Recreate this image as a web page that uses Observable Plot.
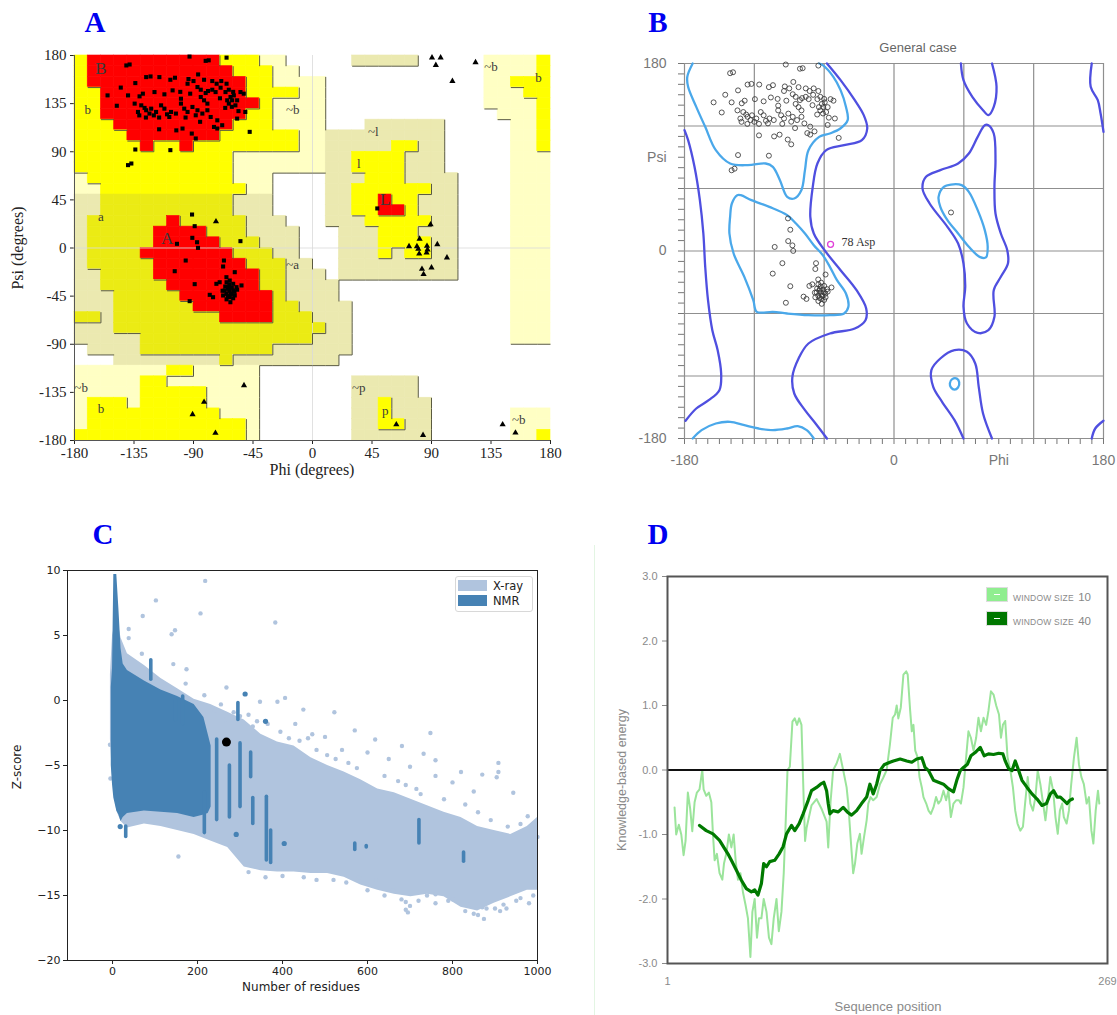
<!DOCTYPE html>
<html><head><meta charset="utf-8">
<script src="https://cdn.jsdelivr.net/npm/d3@7"></script>
<script src="https://cdn.jsdelivr.net/npm/@observablehq/plot@0.6"></script>
<style>
html,body{margin:0;padding:0;background:#fff;}
#page{position:relative;width:1117px;height:1015px;overflow:hidden;background:#fff;}
.abs{position:absolute;white-space:nowrap;line-height:1;}
.plab{font-family:"Liberation Serif",serif;font-weight:bold;font-size:29px;color:#0000f0;}
.panel{position:absolute;}
</style></head><body><div id="page"></div>
<script>
// ---------------- Panel A: PROCHECK Ramachandran plot ----------------
const phiTicks = [-180, -135, -90, -45, 0, 45, 90, 135, 180];
// 36 rows (psi 180 -> -180, 10 degree steps), run-length: letter + count over 36 phi cells (-180 -> 180)
const regionRows = [
  "Y1 R10 Y3 P2 W5 K5 W5 P4 Y1",
  "Y1 R11 Y3 P2 W14 P4 Y1",
  "Y1 R12 Y2 P4 W12 P2 Y3",
  "Y2 R11 Y4 P2 W12 P3 Y2",
  "Y2 R12 Y1 P4 W12 P4 Y1",
  "Y2 R11 Y2 P4 W13 P3 Y1",
  "Y3 R9 Y3 P4 W3 K6 W5 P2 Y1",
  "Y4 R7 Y6 P2 K9 W5 P2 Y1",
  "Y5 R1 Y2 R1 Y8 P2 K5 Y2 K2 W5 P2 Y1",
  "Y12 P7 K2 Y4 K3 W5 P3",
  "Y12 P7 K2 Y4 K3 W5 P3",
  "P1 Y11 P3 W4 K3 Y3 K4 W4 P3",
  "P2 Y11 P2 W4 K2 Y6 K2 W4 P3",
  "K2 T10 K3 W4 K2 Y2 R1 Y2 K3 W4 P3",
  "K2 T10 K3 W4 K2 Y2 R2 Y1 K3 W4 P3",
  "K1 T6 R1 T5 K3 W3 K3 Y5 K2 W4 P3",
  "K1 T5 R4 T3 K4 W3 K3 Y3 K3 W4 P3",
  "K1 T5 R5 T3 K3 W3 K3 Y4 K2 W4 P3",
  "K1 T4 R7 T3 K2 W3 K3 Y1 K1 Y2 K2 W4 P3",
  "K1 T5 R7 T3 K2 W2 K9 W4 P3",
  "K2 T4 R8 T2 K3 W1 K9 W4 P3",
  "K2 T5 R7 T2 K4 W13 P3",
  "K3 T5 R7 T1 K4 W13 P3",
  "K3 T6 R6 T2 K4 W12 P3",
  "T2 K1 T8 R4 T3 K3 W12 P3",
  "K3 T16 K2 W12 P3",
  "K5 T13 K3 W12 P3",
  "W1 K4 T10 K6 W15",
  "W3 K8 T1 K8 W16",
  "P7 Y2 P5 W22",
  "P5 Y2 P7 W7 K5 W10",
  "P5 Y5 P4 W7 K5 W10",
  "P1 Y3 P1 Y5 P4 W7 K2 Y1 K3 W9",
  "P1 Y10 P3 W7 K2 Y1 K3 W6 P3",
  "P1 Y12 P1 W7 K2 Y2 K2 W6 P3",
  "Y13 P1 W7 K6 W6 P2 Y1"
];
const regionClasses = ["R", "Y", "T", "K", "P"];
const regionFills = ["#ff0000", "#ffff00", "#ebeb14", "#ebe9b0", "#ffffc4"];
const regionRank = {R: 3, Y: 2, T: 2, K: 1, P: 1, W: 0};
const regionLabels = [
  ["B", -160, 168], ["b", -170, 129], ["a", -160, 29], ["A", -110, 9], ["~b", -15, 129],
  ["~a", -15, -16], ["~l", 46, 109], ["l", 35, 79], ["L", 55, 45], ["~b", 135, 169],
  ["b", 171, 159], ["~b", -175, -131], ["b", -160, -150], ["~p", 35, -131], ["p", 55, -152],
  ["~b", 156, -161]
];
// non-glycine residues (phi, psi)
const residues = [
  [-140.8,170.7],[-138.3,171.6],[-125.8,159.8],[-122.5,160.4],[-115.8,159.8],[-107.5,157.3],[-104,159.2],[-93.8,158],
  [-90,156.1],[-86.5,162.3],[-82,157.3],[-75.8,156.1],[-72.5,153.6],[-69,156.1],[-65,153.6],[-94.5,153.6],[-134,154.2],
  [-155,142.7],[-139.5,142.7],[-130.8,141.8],[-128.3,144.3],[-119.5,145.8],[-112,143.7],[-105.8,147.4],[-99.5,139.6],
  [-92.5,144.3],[-87,150.5],[-84.5,148],[-80.8,144.9],[-79,146.8],[-75.8,148],[-73.3,145.8],[-69.5,149.9],[-65.8,145.8],
  [-63.3,148],[-62,141.2],[-59.5,142.7],[-60.8,138.1],[-64.5,138.1],[-57,138.1],[-54.5,145.8],[-52,144.3],[-58.3,133.4],
  [-63.3,135],[-84.5,141.2],[-82,138.1],[-79.5,135],[-134.5,135],[-129.5,133.4],[-125.8,128.8],[-132,127.2],[-122,130.3],
  [-118.3,127.2],[-123.3,125.7],[-114.5,133.4],[-112,130.3],[-107,127.2],[-108.3,122.5],[-103.3,125.7],[-99.5,135],
  [-97,130.3],[-94.5,127.2],[-90.8,131.9],[-87,128.8],[-88.3,124.1],[-83.3,125.7],[-79.5,128.8],[-77,122.5],[-72,119.4],
  [-68.3,114.8],[-74.5,113.2],[-98.3,111.7],[-91.3,107],[-88.3,102.4],[-72,111.7],[-57,121],[-50.8,127.2],[-47.5,108.6],
  [-134,92.1],[-107.5,91.5],[-139.5,77.5],[-137,79],[-93,179],[-80.8,175],[-78.5,175.5],[-65,178],
  [-127,131],[-120,124],[-116,122],[-110,125],[-126,122],[-131,124],[-60,146],[-61,132],[-66,131],[-70,140],[-56,128],
  [-100,146],[-96,122],[-85,118],[-145,150],[-148,133],[-116,111],[-103,110],
  [-91.1,31.3],[-89.1,20.4],[-90.9,9.5],[-87.3,5.4],[-86.6,0.1],[-102.5,3.9],[-95.9,-11.7],[-104.2,-21.7],[-89.1,-33.8],
  [-67,-11.7],[-67.6,-17.3],[-58.8,-22.6],[-92.9,-49.7],[-77.7,-43.8],[-75.2,-46],[-65.1,-27.3],[-62.6,-30.4],[-60,-33.5],
  [-63.8,-36.6],[-66.4,-39.7],[-61.3,-42.9],[-62.6,-46],[-65.1,-42.9],[-57.5,-36.6],[-53.7,-35],[-60,-39.7],[-58.8,-44.4],
  [-62.1,-50.7],[-67.6,-44.4],[-70.2,-32],[-72.7,-33.5],[-65,-32],[-63,-40],[-64,-38],[-61,-37],[-59,-41],[-66,-36],
  [-62,-43],[-64,-45],[-60,-47],[-68,-40],[-57,-39],[-63,-34],[-65,-48],
  [49,37]
];
const asp78 = [-54.5, 6.4];
const glycines = [
  [90.4,178],[96.9,178],[93.3,171],[123.3,173.5],[105.8,156],[89.3,22],[73,1.5],[79,1.5],[80,-1],[86.6,1.8],[94.4,3.4],
  [81,8.5],[87,-1.5],[80.7,-5.4],[86.3,-4.4],[101.7,-9],[82.8,-19.6],[90,-18.4],[84,-24.6],[-73,24.7],[-51.8,-128.5],
  [-82,-144],[-90.7,-155.6],[-73.4,-173],[63.4,-165],[83.6,-175],[143.8,-165],[153.5,-172.8]
];

// ---------------- Panel B: MolProbity general case contours ----------------
const bGrid = [-180, -120, -60, 0, 60, 120, 180];
const lightOpen = {
  betaTop: [[-64.3,180],[-61.2,178.4],[-52.1,167.2],[-45.9,154.4],[-41.3,138.4],[-39.8,125.6],[-46.1,117.6],[-55.1,112.8],[-64.3,109.6],[-73.5,96.8],[-76.5,77.6],[-79.6,58.4],[-85.7,50.4],[-91.8,52],[-98,68],[-104.1,80.8],[-110.2,84],[-125.5,82.4],[-140.8,84],[-153.1,96.8],[-162.2,119.2],[-169.9,138.4],[-176.9,157.6],[-177.6,167.2],[-173,180]],
  betaBottom: [[-173,-180],[-165.3,-172],[-153.1,-165.6],[-140.8,-164],[-128.6,-167.2],[-116.3,-170.4],[-104.1,-172],[-91.8,-170.4],[-82.7,-168.2],[-75,-172],[-68.9,-180]]
};
const lightClosed = {
  alpha: [[-134.7,53.6],[-139.3,45.6],[-140.8,32.8],[-141.4,16.8],[-137.8,-2.4],[-128.6,-24.8],[-120.9,-47.2],[-117.9,-58.4],[-104.1,-58.4],[-91.8,-60],[-73.5,-61.6],[-55.1,-61.6],[-42.9,-60],[-39.2,-53.6],[-41.3,-40.8],[-49,-28],[-55.1,-15.2],[-61.2,-4],[-68.9,5.6],[-76.5,16.8],[-84.2,26.4],[-91.8,34.4],[-107.1,42.4],[-122.5,48.8],[-131.6,53.6]],
  leftAlpha: [[42.8,61.6],[38.3,52],[39.8,42.4],[45.9,29.6],[55.1,16.8],[64.3,4],[73.5,-5.6],[79,-6.2],[80.5,4],[78,20],[71.9,39.2],[64.3,56.8],[58.1,63.2],[49,63.8]],
  small: [[50,-123],[54,-122.5],[56,-126],[55,-131],[52,-133],[49,-131],[48,-127]]
};
const darkOpen = {
  main: [[-57.6,180],[-45.9,164],[-33.7,144.8],[-26,130.4],[-23,117.6],[-27.6,106.4],[-42.9,101.6],[-58.2,96.8],[-65.8,84],[-69.8,61.6],[-71.9,32.8],[-68.9,16.8],[-59.7,0.8],[-45.9,-18.4],[-32.2,-37.6],[-23.9,-55.2],[-24.5,-66.4],[-33.7,-74.4],[-55.1,-79.2],[-73.5,-88.8],[-82,-103.2],[-87.3,-120.8],[-85.7,-136.8],[-76.5,-152.8],[-67.4,-165.6],[-57.6,-180]],
  edge: [[-180,116],[-176.9,106.4],[-171.4,80.8],[-166.8,48.8],[-163.8,16.8],[-162.2,-15.2],[-159.8,-47.2],[-156.1,-76],[-151.5,-95.2],[-148.5,-117.6],[-150,-133.6],[-159.2,-143.2],[-169.9,-151.2],[-179.1,-163]],
  topRight: [[57.5,180],[59.7,164],[67.3,148],[76.5,135.2],[81.1,130.4],[85.7,138.4],[88.1,157.6],[84.2,180]],
  bottomRight: [[59.7,-180],[52,-162.4],[41.3,-144.8],[33.7,-130.4],[32.1,-114.4],[39.8,-103.2],[52,-95.2],[62.7,-96.8],[69.8,-108],[72.8,-130.4],[76.5,-156],[84.2,-180]],
  farRightTop: [[169.9,180],[169,157.6],[175.1,144.8],[177.5,132],[180,114.4]],
  farRightBottom: [[169.9,-180],[172.9,-170.4],[180,-163]]
};
const darkClosed = {
  midRight: [[78,120.8],[71.9,109.6],[64.3,93.6],[55.1,84],[39.8,77.6],[27.5,71.2],[24.5,60],[30.6,45.6],[45.9,23.2],[55.1,7.2],[59.7,-12],[61.2,-34.4],[59.7,-53.6],[62.7,-69.6],[71.9,-78.6],[81.1,-76],[86.3,-63.2],[85.7,-37.6],[91.8,-24.8],[97.9,-12],[97.3,0.8],[91.8,16.8],[87.2,36],[86.3,61.6],[87.2,87.2],[85.7,112.8],[81.1,120.8]]
};

// ---------------- Panel C: ProSA z-score ----------------
const resTicks = [0, 200, 400, 600, 800, 1000];
const zTicks = [-20, -15, -10, -5, 0, 5, 10];
// [residues, upper z, lower z]
const xrayBand = [[-5,2,-3],[0,5,-6],[10,6.5,-8.5],[20,4.8,-9.3],[35,3.6,-9.8],[75,2.7,-9.5],[114,1.7,-9.7],[153,0.9,-10],[192,0.1,-10.3],[231,-0.3,-10.8],[271,-0.9,-11.3],[310,-1.5,-12.8],[349,-2.6,-13.1],[388,-3.2,-13.2],[427,-3.5,-13.2],[467,-4.4,-13.3],[506,-5,-13.3],[545,-5.5,-13.6],[584,-6.1,-14.2],[624,-6.8,-14.6],[663,-7.1,-14.9],[702,-7.6,-15.1],[741,-8.1,-14.9],[780,-8.6,-15.1],[820,-9,-15.9],[859,-9.7,-16.2],[898,-10,-15.6],[937,-10.3,-15.1],[976,-9.7,-14.6],[1000,-9,-14.6]];
const nmrBand = [[-3,1,-5],[0,2.5,-6.5],[3,9.7,-7.5],[10,9.7,-8.5],[15,7,-8.8],[20,4,-9.3],[25,2.8,-9],[35,2.3,-8.7],[75,1.5,-8.5],[114,0.8,-8.6],[153,0.3,-8.7],[192,-0.3,-9],[215,-1.3,-8.8],[225,-2.6,-8.7],[232,-3.5,-8.2]];
const nmrStreaks = [[90,1.6,3.1],[148,-1.5,0],[165,-1.8,0.3],[216,-10.2,-7.1],[245,-9.2,-3],[275,-9,-5],[295,-1.5,-0.2],[300,-8.2,-3.3],[325,-5.9,-4],[330,-9.5,-7.5],[362,-12.3,-7.4],[372,-12.5,-10],[721,-11,-9.2],[826,-12.4,-11.7],[31,-10.5,-9.7],[570,-11.5,-11],[597,-11.3,-11.2]];
const nmrDots = [[312,0.5],[360,-1.6],[291,-10.3],[404,-11],[18,-9.7]];
const xrayDots = [[218,9.2],[102,7.7],[207,6.7],[71,6.5],[383,6],[38,5.5],[147,5.4],[139,5.1],[38,4.8],[69,3.6],[143,2.8],[174,2.4],[172,1.3],[216,0.4],[268,1],[347,-0.1],[388,-0.1],[406,0.2],[449,-0.7],[522,-0.9],[570,-2.3],[618,-3],[748,-2.5],[681,-3.5],[732,-4.1],[908,-4.8],[908,-5.5],[904,-5.9],[943,-7.1],[977,-8.9],[155,-12],[740,-15],[801,-15.3],[912,-16.2],[927,-16],[874,-16.8],[690,-16.1],[-5,-6],[-6,-3.4],[690,-15.5],[695,-16.3],[860,-16.5],[880,-16],[985,-12],[995,-9.5],[1000,-10.5],[300,-1.2],[330,-2],[430,-1.8],[470,-2.6],[500,-2.8],[540,-3.8],[600,-4],[650,-4.5],[700,-5.1],[760,-5.8],[800,-6.3],[850,-7],[870,-5.7],[760,-4.6],[820,-5.5],[620,-13.8],[660,-14.6],[760,-14.9],[840,-15.7],[950,-15.4],[980,-15.6],[520,-13.8],[580,-13.6],
  [240,-0.8],[255,-0.3],[265,-1.5],[285,-0.9],[320,-1.1],[340,-1.6],[365,-1.8],[395,-2.4],[415,-2.9],[440,-3.1],[460,-2.9],[480,-3.8],[505,-4.2],[525,-4.5],[555,-4.8],[575,-5.2],[640,-5.8],[672,-6.2],[690,-6.5],[715,-6.8],[725,-7.2],[780,-7.6],[830,-8],[860,-8.6],[890,-9.2],[930,-9.7],[960,-9.5],[990,-9.9],
  [320,-13.2],[360,-13.6],[400,-13.5],[450,-13.6],[480,-13.8],[550,-14],[600,-14.6],[640,-15],[680,-15.3],[700,-15.8],[720,-15.4],[760,-15.6],[790,-15.4],[830,-16.2],[850,-16.4],[870,-15.9],[900,-16],[920,-15.7],[960,-15.2],[990,-15]];
const queryProtein = [268, -3.2];

// ---------------- Panel D: ProSA energy profile ----------------
const energyTicks = [-3, -2, -1, 0, 1, 2, 3];
const seqTicks = [1, 269];
const win10 = [[5.3,-0.58],[6.3,-1],[7.9,-0.85],[9.4,-1],[10.8,-1.32],[12,-1.1],[13.4,-0.35],[14.8,-0.6],[16.1,-0.95],[17.5,-0.5],[18.9,-0.35],[20.5,-0.3],[22.2,0],[23,-0.3],[24.6,-0.4],[26.2,-0.35],[27.7,-0.5],[28.7,-1],[29.7,-1.4],[31.1,-1.3],[32.7,-1.6],[34.4,-1.7],[35.4,-1.45],[36.8,-1.3],[38.4,-1],[39.9,-1.2],[41.3,-1],[42.5,-1.4],[43.9,-1.7],[45.4,-1.6],[47,-1.9],[48.6,-2.1],[50,-2.3],[51.5,-2.9],[52.7,-2.2],[54.1,-2],[55.5,-2.6],[56.7,-2.3],[58.2,-2.3],[59.6,-2],[61.3,-2.2],[62.8,-2.6],[64.3,-2.7],[65.7,-2.3],[67.4,-2],[68.8,-2.5],[70.4,-2.2],[71.8,-1.6],[73,-0.8],[74.1,0],[75.5,0.05],[77.1,0.75],[78.5,0.8],[79.9,0.7],[81.2,0.8],[82.6,0.7],[84,-0.5],[84.8,-1.1],[85.7,-0.9],[88.7,-0.55],[91.8,-0.45],[94.8,-0.6],[97.9,-0.8],[98.9,-1.2],[100.3,-0.5],[101.9,0],[104,0.1],[106,0.25],[107,0.12],[108,0],[110.1,-0.27],[111.1,-0.52],[112.5,-1.04],[114.1,-1.6],[115.2,-1.45],[116.6,-1.14],[118.2,-0.99],[119.2,-1.3],[120.7,-1.04],[122.3,-0.78],[123.3,-0.52],[124.7,-0.42],[126.3,-0.47],[128.4,-0.42],[130.4,-0.22],[132.4,-0.12],[134.5,0],[136.5,0.4],[138.2,0.81],[139.6,0.86],[140.6,1],[141.6,0.8],[143.1,0.97],[144.7,1.48],[146.4,1.53],[147.3,1.48],[148.8,0.92],[149.8,0.6],[150.8,0.7],[151.9,0.3],[153.3,0.2],[154.5,-0.11],[155.9,-0.27],[156.9,-0.42],[158.6,-0.52],[160,-0.63],[161.4,-0.68],[163,-0.58],[164.6,-0.42],[166,-0.52],[167.5,-0.47],[169.1,-0.32],[170.7,-0.47],[172.1,-0.32],[173.6,-0.73],[175.2,-0.52],[176.8,-0.47],[178.5,-0.47],[179.7,-0.52],[181.3,-0.27],[182.9,0.2],[184.3,0.6],[185.8,0.5],[187.4,0.3],[189,0.5],[190.4,0.81],[191.9,0.6],[193.5,0.81],[195.1,0.7],[196.5,0.92],[198,1.22],[199.6,1.17],[201.2,1],[202.9,0.86],[204.1,0.5],[205.3,0.7],[206.7,0.76],[208.1,0.2],[209.8,0],[211.4,-0.27],[212.8,-0.63],[214.2,-0.83],[215.9,-0.94],[217.5,-0.88],[218.8,-0.52],[220.4,-0.11],[222,-0.52],[223.6,-0.63],[225.1,-0.42],[226.5,-0.01],[228.1,-0.22],[229.8,-0.52],[231.2,-0.78],[232.6,-0.47],[234.2,-0.11],[235.9,-0.32],[237.3,-0.73],[238.7,-0.99],[240,-0.63],[241.4,-0.52],[242.4,-0.73],[244.1,-0.83],[245.5,-0.63],[246.9,-0.22],[248.6,0.2],[250.2,0.5],[251.6,0.09],[253.1,-0.11],[254.6,-0.22],[256.3,-0.52],[257.7,-0.42],[259.2,-0.94],[260.4,-1.14],[261.8,-0.63],[263.2,-0.32],[264,-0.52]];
const win40 = [[20.5,-0.86],[24.6,-0.94],[28.7,-0.99],[32.7,-1.09],[35.8,-1.22],[37.8,-1.3],[39.9,-1.4],[42.9,-1.55],[46,-1.71],[49,-1.84],[52.1,-1.89],[54.1,-1.86],[56.1,-1.94],[58.2,-1.76],[59.6,-1.45],[61.3,-1.5],[63.3,-1.42],[66.3,-1.4],[69,-1.3],[71.4,-1.19],[73.5,-0.99],[76.5,-0.86],[78.5,-0.94],[81.2,-0.83],[83.6,-0.68],[86.7,-0.47],[88.7,-0.32],[91.8,-0.27],[94.2,-0.22],[96.2,-0.19],[97.9,-0.32],[98.9,-0.52],[99.9,-0.68],[101.9,-0.63],[105,-0.65],[108,-0.58],[110.5,-0.65],[113.1,-0.7],[116.2,-0.63],[119.2,-0.52],[122.3,-0.42],[124.3,-0.22],[126.3,-0.37],[128.4,-0.22],[130.4,-0.01],[132.9,0.08],[136.5,0.12],[138.6,0.14],[142.7,0.17],[146.7,0.14],[149.8,0.12],[152.8,0.17],[155.9,0.19],[157.9,0.04],[160,-0.01],[163,-0.16],[166,-0.19],[169.1,-0.22],[172.1,-0.29],[175.2,-0.34],[177.2,-0.16],[179.3,-0.01],[181.3,0.04],[183.7,0.09],[185.8,0.22],[188.4,0.27],[191.5,0.35],[193.9,0.22],[196.5,0.25],[199.6,0.24],[202.7,0.26],[205.3,0.25],[206.7,0.14],[208.8,0.02],[210.8,-0.01],[212.8,0.14],[214.9,-0.01],[216.9,-0.16],[220,-0.27],[223,-0.37],[226.1,-0.45],[229.1,-0.55],[231.8,-0.52],[234.2,-0.37],[236.2,-0.32],[238.3,-0.42],[240.3,-0.42],[242.4,-0.47],[244.4,-0.52],[246,-0.47],[247.6,-0.45]];

// ======================= rendering =======================
const page = document.getElementById("page");
function place(node, left, top) {
  const wrap = document.createElement("div");
  wrap.className = "panel";
  wrap.style.left = left + "px"; wrap.style.top = top + "px";
  wrap.appendChild(node); page.appendChild(wrap);
}
function label(text, x, y, css, rotate) {
  const d = document.createElement("div");
  d.className = "abs"; d.textContent = text;
  d.style.cssText += css;
  d.style.left = x + "px"; d.style.top = y + "px";
  d.style.transform = "translate(-50%,-50%)" + (rotate ? " rotate(-90deg)" : "");
  page.appendChild(d); return d;
}
const X = d => d[0], Y = d => d[1];

// ---- A ----
const grid = regionRows.map(row => row.split(" ").flatMap(tok => Array(+tok.slice(1)).fill(tok[0])));
const cellsA = [], edgesA = [];
grid.forEach((row, r) => row.forEach((k, c) => {
  const phi1 = -180 + 10 * c, phi2 = phi1 + 10, psi2 = 180 - 10 * r, psi1 = psi2 - 10;
  if (k === "W") return;
  cellsA.push({k, phi1, phi2, psi1, psi2});
  const rk = regionRank[k];
  if (c < 35 && regionRank[row[c + 1]] < rk) edgesA.push({x1: phi2, x2: phi2, y1: psi1, y2: psi2});
  if (r < 35 && regionRank[grid[r + 1][c]] < rk) edgesA.push({x1: phi1, x2: phi2, y1: psi1, y2: psi1});
}));
const plotA = Plot.plot({
  width: 560, height: 490, marginLeft: 74, marginRight: 10, marginTop: 55, marginBottom: 50,
  x: {domain: [-180, 180], ticks: phiTicks, tickFormat: d => String(d), tickSize: 4, tickPadding: 3, label: null},
  y: {domain: [-180, 180], ticks: phiTicks, tickFormat: d => String(d), tickSize: 4, tickPadding: 4, label: null},
  color: {domain: regionClasses, range: regionFills},
  style: {fontFamily: '"Liberation Serif", serif', fontSize: "15px", color: "#222", background: "transparent", overflow: "visible"},
  marks: [
    Plot.rect(cellsA, {x1: "phi1", x2: "phi2", y1: "psi1", y2: "psi2", fill: "k", stroke: "k", strokeWidth: 0.6}),
    Plot.ruleX([0], {stroke: "#d9d9d9", strokeWidth: 0.8}),
    Plot.ruleY([0], {stroke: "#d9d9d9", strokeWidth: 0.8}),
    Plot.link(edgesA, {x1: "x1", x2: "x2", y1: "y1", y2: "y2", stroke: "#5a5a40", strokeWidth: 1}),
    Plot.ruleX([-180], {stroke: "#555", strokeWidth: 1}),
    Plot.ruleY([-180], {stroke: "#555", strokeWidth: 1}),
    Plot.text(regionLabels, {x: d => d[1], y: d => d[2], text: d => d[0], fontSize: d => /^[A-Z]$/.test(d[0]) ? 17 : 13, fill: "#3a3a3a"}),
    Plot.dot(residues, {x: X, y: Y, symbol: "square", r: 2.3, fill: "#000"}),
    Plot.dot([asp78], {x: X, y: Y, symbol: "square", r: 2.3, fill: "#000"}),
    Plot.dot(glycines, {x: X, y: Y, symbol: "triangle", r: 2.3, fill: "#000"})
  ]
});
place(plotA, 0, 0);

// ---- B ----
const flat = (obj) => Object.entries(obj).flatMap(([id, pts]) => pts.map(p => ({id, phi: p[0], psi: p[1]})));
const degTicks = d3.range(-180, 181, 10);
const plotB = Plot.plot({
  width: 557, height: 490, marginLeft: 124, marginRight: 14, marginTop: 63, marginBottom: 52,
  x: {domain: [-180, 180], ticks: degTicks, tickFormat: d => d === 90 ? "Phi" : ([-180, 0, 180].includes(d) ? String(d) : ""), tickSize: 6, tickPadding: 11, label: null},
  y: {domain: [-180, 180], ticks: degTicks, tickFormat: d => d === 90 ? "Psi" : ([-180, 0, 180].includes(d) ? String(d) : ""), tickSize: 6, tickPadding: 12, label: null},
  style: {fontFamily: '"Liberation Sans", Arial, sans-serif', fontSize: "14px", color: "#777", background: "transparent", overflow: "visible"},
  marks: [
    Plot.ruleX(bGrid, {stroke: "#8f8f8f", strokeWidth: 1.2}),
    Plot.ruleY(bGrid, {stroke: "#8f8f8f", strokeWidth: 1.2}),
    Plot.line(flat(darkOpen), {x: "phi", y: "psi", z: "id", curve: "catmull-rom", stroke: "#4f4fe0", strokeWidth: 2.3}),
    Plot.line(flat(darkClosed), {x: "phi", y: "psi", z: "id", curve: "catmull-rom-closed", stroke: "#4f4fe0", strokeWidth: 2.3}),
    Plot.line(flat(lightOpen), {x: "phi", y: "psi", z: "id", curve: "catmull-rom", stroke: "#4aa8ea", strokeWidth: 2.3}),
    Plot.line(flat(lightClosed), {x: "phi", y: "psi", z: "id", curve: "catmull-rom-closed", stroke: "#4aa8ea", strokeWidth: 2.3}),
    Plot.dot(residues, {x: X, y: Y, r: 2.5, stroke: "#3a3a3a", strokeWidth: 1, fill: "none", strokeOpacity: 0.85}),
    Plot.dot([asp78], {x: X, y: Y, r: 3, stroke: "#e040d8", strokeWidth: 1.3, fill: "none"}),
    Plot.text([asp78], {x: X, y: Y, text: () => "78 Asp", dx: 11, dy: -2, textAnchor: "start", fontFamily: '"Liberation Serif", serif', fontSize: 12, fill: "#333"})
  ]
});
place(plotB, 560, 0);

// ---- C ----
const minusFmt = d => d < 0 ? "\u2212" + Math.abs(d) : String(d);
const plotC = Plot.plot({
  width: 560, height: 515, marginLeft: 67, marginRight: 23, marginTop: 70, marginBottom: 55,
  x: {domain: [-106, 1000], ticks: resTicks, tickSize: 4, tickPadding: 3, label: null, tickFormat: d => String(d)},
  y: {domain: [-20, 10], ticks: zTicks, tickFormat: minusFmt, tickSize: 4, tickPadding: 3, label: null},
  style: {fontFamily: '"DejaVu Sans", sans-serif', fontSize: "11px", color: "#222", background: "transparent", overflow: "visible"},
  marks: [
    Plot.areaY(xrayBand, {x: d => d[0], y1: d => d[2], y2: d => d[1], fill: "#b0c4de"}),
    Plot.dot(xrayDots, {x: X, y: Y, r: 2.2, fill: "#b0c4de"}),
    Plot.areaY(nmrBand, {x: d => d[0], y1: d => d[2], y2: d => d[1], fill: "#4682b4"}),
    Plot.ruleX(nmrStreaks, {x: d => d[0], y1: d => d[1], y2: d => d[2], stroke: "#4682b4", strokeWidth: 3.6, strokeLinecap: "round"}),
    Plot.dot(nmrDots, {x: X, y: Y, r: 2.6, fill: "#4682b4"}),
    Plot.dot([queryProtein], {x: X, y: Y, r: 4.5, fill: "#000"}),
    Plot.frame({stroke: "#222"})
  ]
});
place(plotC, 0, 500);

// ---- D ----
const plotD = Plot.plot({
  width: 557, height: 515, marginLeft: 107, marginRight: 10, marginTop: 76, marginBottom: 52,
  x: {domain: [1, 269], ticks: seqTicks, tickFormat: d => String(d), tickSize: 0, tickPadding: 14, label: null},
  y: {domain: [-3, 3], ticks: energyTicks, tickFormat: d => d.toFixed(1), tickSize: 5, tickPadding: 5, label: null},
  style: {fontFamily: '"Liberation Sans", Arial, sans-serif', fontSize: "11px", color: "#8a8a8a", background: "transparent", overflow: "visible"},
  marks: [
    Plot.line(win10, {x: X, y: Y, stroke: "#9be49b", strokeWidth: 2}),
    Plot.ruleY([0], {stroke: "#111", strokeWidth: 2}),
    Plot.line(win40, {x: X, y: Y, stroke: "#007a00", strokeWidth: 3.2}),
    Plot.frame({stroke: "#555", strokeWidth: 2})
  ]
});
place(plotD, 560, 500);

// ---------------- text labels and legends ----------------
label("A", 95, 22, "", false).className += " plab";
label("B", 658, 22, "", false).className += " plab";
label("C", 103, 534, "", false).className += " plab";
label("D", 658, 534, "", false).className += " plab";

const serif = 'font-family:"Liberation Serif",serif;color:#222;';
label("Phi (degrees)", 312, 470, serif + "font-size:16px;");
label("Psi (degrees)", 18, 248, serif + "font-size:16px;", true);

label("General case", 918, 47, 'font-family:"Liberation Sans",Arial,sans-serif;font-size:13px;color:#666;');

const dv = 'font-family:"DejaVu Sans",sans-serif;color:#222;font-size:12px;';
label("Number of residues", 301, 987, dv);
label("Z-score", 17, 767, dv, true);

const gs = 'font-family:"Liberation Sans",Arial,sans-serif;color:#8a8a8a;';
label("Sequence position", 888, 1006, gs + "font-size:13px;");
label("Knowledge-based energy", 622, 780, gs + "font-size:12.5px;", true);

// faint separator line at left of panel D
const sep = document.createElement("div");
sep.style.cssText = "position:absolute;left:594px;top:545px;width:1px;height:470px;background:#e3f5e3;";
page.appendChild(sep);

// legend C
const legC = document.createElement("div");
legC.style.cssText = "position:absolute;left:455px;top:576px;width:76px;height:34px;border:1px solid #d8d8d8;border-radius:3px;background:rgba(255,255,255,0.9);";
legC.innerHTML =
  '<div style="position:absolute;left:2px;top:3px;width:29px;height:11px;background:#b0c4de"></div>' +
  '<div style="position:absolute;left:37px;top:2px;font:11.5px \'DejaVu Sans\',sans-serif;color:#222">X-ray</div>' +
  '<div style="position:absolute;left:2px;top:18px;width:29px;height:11px;background:#4682b4"></div>' +
  '<div style="position:absolute;left:37px;top:17px;font:11.5px \'DejaVu Sans\',sans-serif;color:#222">NMR</div>';
page.appendChild(legC);

// legend D
const legD = document.createElement("div");
legD.style.cssText = "position:absolute;left:986px;top:586px;width:120px;height:44px;";
const sw = (top, color) => '<div style="position:absolute;left:0;top:' + top + 'px;width:20px;height:13px;background:' + color + ';border:1px solid #ddd"><div style="position:absolute;left:7px;top:6px;width:6px;height:1px;background:#fff"></div></div>';
const tx = (top, n) => '<div style="position:absolute;left:27px;top:' + top + 'px;white-space:nowrap;font-family:\'Liberation Sans\',Arial,sans-serif;color:#8a8a8a"><span style="font-size:8.5px;letter-spacing:0.2px">WINDOW SIZE</span> <span style="font-size:11.5px;color:#888">' + n + '</span></div>';
legD.innerHTML = sw(1, "#90ee90") + tx(1, "10") + sw(25, "#007700") + tx(25, "40");
page.appendChild(legD);
</script>
</body></html>
